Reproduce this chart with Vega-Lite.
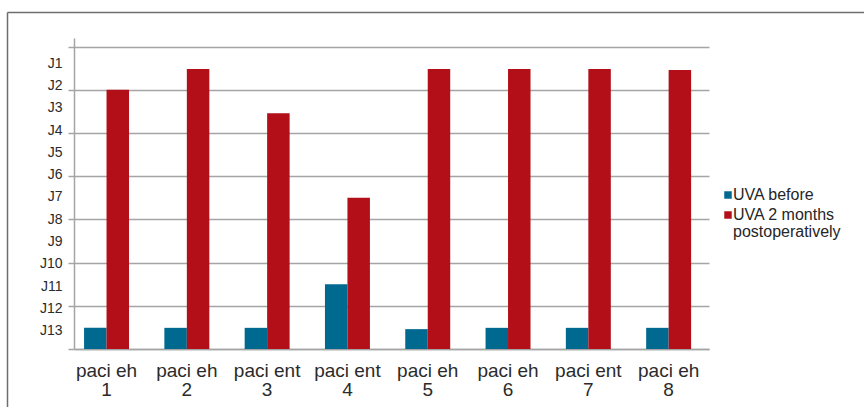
{
  "$schema": "https://vega.github.io/schema/vega-lite/v6.json",
  "width": 635,
  "height": 311,
  "autosize": "none",
  "padding": {"left": 74, "top": 38, "right": 155, "bottom": 58},
  "background": "white",
  "config": {
    "view": {"stroke": null},
    "font": "Liberation Sans",
    "axis": {"labelFont": "Liberation Sans", "titleFont": "Liberation Sans"},
    "legend": {"labelFont": "Liberation Sans"}
  },
  "data": {
    "values": [
      {"patient": "paci eh 1", "series": "UVA before", "value": 0.49},
      {"patient": "paci eh 1", "series": "UVA 2 months postoperatively", "value": 6.0},
      {"patient": "paci eh 2", "series": "UVA before", "value": 0.49},
      {"patient": "paci eh 2", "series": "UVA 2 months postoperatively", "value": 6.48},
      {"patient": "paci ent 3", "series": "UVA before", "value": 0.49},
      {"patient": "paci ent 3", "series": "UVA 2 months postoperatively", "value": 5.46},
      {"patient": "paci ent 4", "series": "UVA before", "value": 1.5},
      {"patient": "paci ent 4", "series": "UVA 2 months postoperatively", "value": 3.5},
      {"patient": "paci eh 5", "series": "UVA before", "value": 0.46},
      {"patient": "paci eh 5", "series": "UVA 2 months postoperatively", "value": 6.48},
      {"patient": "paci eh 6", "series": "UVA before", "value": 0.49},
      {"patient": "paci eh 6", "series": "UVA 2 months postoperatively", "value": 6.48},
      {"patient": "paci ent 7", "series": "UVA before", "value": 0.49},
      {"patient": "paci ent 7", "series": "UVA 2 months postoperatively", "value": 6.48},
      {"patient": "paci eh 8", "series": "UVA before", "value": 0.49},
      {"patient": "paci eh 8", "series": "UVA 2 months postoperatively", "value": 6.46}
    ]
  },
  "layer": [
    {
      "mark": {"type": "bar"},
      "encoding": {
        "x": {
          "field": "patient",
          "type": "nominal",
          "sort": null,
          "scale": {"paddingInner": 0.44, "paddingOuter": 0.174, "align": 0.36},
          "axis": {
            "title": null,
            "labelAngle": 0,
            "ticks": false,
            "grid": false,
            "domainColor": "#a5a5a8",
            "domainWidth": 1.5,
            "labelFontSize": 19,
            "labelColor": "#2b2b2b",
            "labelPadding": 12,
            "labelLineHeight": 19,
            "labelExpr": "[slice(datum.label, 0, -2), slice(datum.label, -1)]"
          }
        },
        "xOffset": {
          "field": "series",
          "type": "nominal",
          "scale": {"domain": ["UVA before", "UVA 2 months postoperatively"], "paddingInner": 0}
        },
        "y": {
          "field": "value",
          "type": "quantitative",
          "scale": {"domain": [0, 7.2], "nice": false},
          "axis": {
            "title": null,
            "values": [0, 1, 2, 3, 4, 5, 6, 7, 6.62, 6.103, 5.586, 5.069, 4.552, 4.035, 3.519, 3.002, 2.485, 1.968, 1.451, 0.934, 0.417],
            "labelExpr": "datum.value % 1 === 0 ? '' : 'J' + round((6.62 - datum.value) / 0.517 + 1)",
            "grid": true,
            "gridColor": "#a5a5a8",
            "gridWidth": 1.5,
            "gridOpacity": {"condition": {"test": "datum.value % 1 === 0", "value": 1}, "value": 0},
            "tickOpacity": {"condition": {"test": "datum.value % 1 === 0", "value": 1}, "value": 0},
            "tickColor": "#a5a5a8",
            "tickWidth": 1.5,
            "tickSize": 6,
            "domainColor": "#a5a5a8",
            "domainWidth": 1.5,
            "labelFontSize": 14,
            "labelColor": "#2b2b2b",
            "labelPadding": 6,
            "labelOverlap": false,
            "labelFlush": false,
            "labelBaseline": "middle"
          }
        },
        "color": {
          "field": "series",
          "type": "nominal",
          "scale": {"domain": ["UVA before", "UVA 2 months postoperatively"], "range": ["#006990", "#b20f18"]},
          "legend": {
            "title": null,
            "orient": "none",
            "legendX": 646,
            "legendY": 149,
            "padding": 0,
            "symbolType": "square",
            "symbolSize": 56,
            "symbolStrokeWidth": 0,
            "labelFontSize": 16,
            "labelColor": "#262626",
            "labelOffset": -3,
            "labelLimit": 300,
            "rowPadding": 4,
            "labelExpr": "datum.label === 'UVA 2 months postoperatively' ? ['UVA 2 months', 'postoperatively'] : datum.label",
            "encode": {
              "labels": {
                "update": {
                  "lineHeight": {"value": 16.5}
                }
              }
            }
          }
        }
      }
    },
    {
      "mark": {"type": "point", "opacity": 0},
      "encoding": {
        "x": {
          "field": "value",
          "type": "quantitative",
          "scale": {"range": [-67, 790]},
          "axis": {
            "orient": "top",
            "offset": 26,
            "title": null,
            "labels": false,
            "ticks": false,
            "grid": false,
            "domainColor": "#6e6e6e",
            "domainWidth": 1.5
          }
        },
        "y": {
          "field": "value",
          "type": "quantitative",
          "scale": {"range": [369, -26]},
          "axis": {
            "orient": "left",
            "offset": 67,
            "title": null,
            "labels": false,
            "ticks": false,
            "grid": false,
            "domainColor": "#6e6e6e",
            "domainWidth": 1.5
          }
        }
      }
    }
  ],
  "resolve": {
    "scale": {"x": "independent", "y": "independent"},
    "axis": {"x": "independent", "y": "independent"}
  }
}
